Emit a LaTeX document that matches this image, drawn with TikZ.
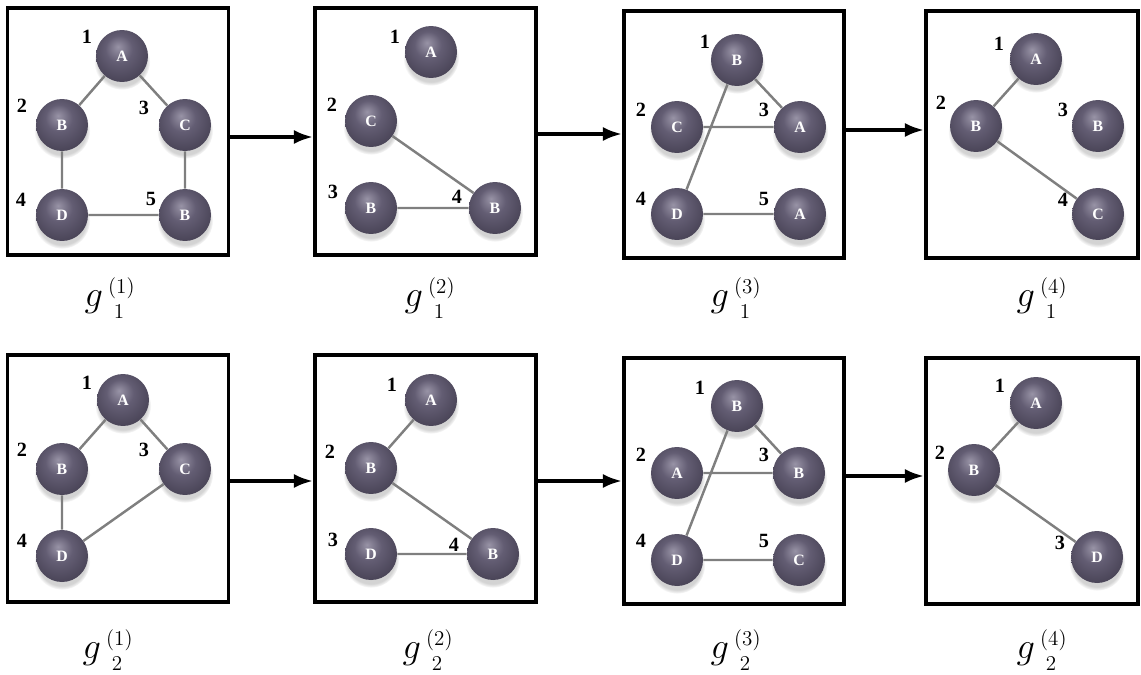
\documentclass[tikz,border=0pt]{standalone}
\usepackage{fontspec}
\setmainfont{Liberation Serif}
\usepackage{xcolor}
\usepackage{tikz}
\usetikzlibrary{arrows.meta,shadows,backgrounds}
\definecolor{cBallHi}{HTML}{9893A6}
\definecolor{cBall}{HTML}{635D73}
\definecolor{cBallDk}{HTML}{433E50}
\definecolor{cEdge}{HTML}{7F7F7F}
\pgfdeclareradialshading{vball}{\pgfpoint{-4bp}{9bp}}%
  {color(0bp)=(cBallHi); color(13bp)=(cBall); color(33bp)=(cBallDk); color(50bp)=(cBallDk)}
\newcommand{\glab}[2]{$g^{\kern3pt\scriptscriptstyle(#1)}_{\kern7pt\raisebox{-2pt}{$\scriptscriptstyle#2$}}$}

\begin{document}
\begin{tikzpicture}[x=0.02cm,y=-0.02cm,
  panel/.style={draw,line width=2pt,inner sep=0pt,minimum width=4.42cm,minimum height=4.94cm},
  vtx/.style={circle,minimum size=1.04cm,inner sep=0pt,shading=vball,text=white,
              font=\fontsize{9}{9}\selectfont\bfseries,
              circular drop shadow={shadow xshift=0pt,shadow yshift=-3pt,shadow scale=1.08,opacity=.35}},
  num/.style={font=\fontsize{11.5}{11.5}\selectfont\bfseries,inner sep=0pt},
  link/.style={cEdge,line width=1.4pt},
  flow/.style={-{Latex[length=11pt,width=8pt]},line width=2.2pt},
  glbl/.style={font=\huge,inner sep=0pt}]

\useasboundingbox (0,0) rectangle (1141,675);

% panels
\node[panel] (s11) at (118,131.5) {};
\node[panel] (s12) at (425.5,131.5) {};
\node[panel,minimum width=4.4cm] (s13) at (734,134.5) {};
\node[panel,minimum width=4.24cm] (s14) at (1032,134.5) {};
\node[panel] (s21) at (118,478.5) {};
\node[panel] (s22) at (425.5,478.5) {};
\node[panel,minimum width=4.4cm,minimum height=4.92cm] (s23) at (734,481) {};
\node[panel,minimum width=4.24cm,minimum height=4.92cm] (s24) at (1032,481) {};

% g_1^(1)
\foreach \n/\x/\y/\t in {1/122/56/A,2/62/125/B,3/185/125/C,4/62/215/D,5/185/215/B}
  \node[vtx] (s11-\n) at (\x,\y) {\t};
\foreach \n/\x/\y in {1/87/37,2/22/106,3/144/108,4/21/200,5/151/199}
  \node[num] (s11-l\n) at (\x,\y) {\n};

% g_1^(2)
\foreach \n/\x/\y/\t in {1/431/52/A,2/371/121/C,3/371/208/B,4/495/208/B}
  \node[vtx] (s12-\n) at (\x,\y) {\t};
\foreach \n/\x/\y in {1/395/37,2/332/105,3/333/192,4/457/197}
  \node[num] (s12-l\n) at (\x,\y) {\n};

% g_1^(3)
\foreach \n/\x/\y/\t in {1/737/60/B,2/677/127/C,3/800/127/A,4/677/214/D,5/800/214/A}
  \node[vtx] (s13-\n) at (\x,\y) {\t};
\foreach \n/\x/\y in {1/705/42,2/641/110,3/764/110,4/641/199,5/764/199}
  \node[num] (s13-l\n) at (\x,\y) {\n};

% g_1^(4)
\foreach \n/\x/\y/\t in {1/1036/59/A,2/976/126/B,3/1098/126/B,4/1098/214/C}
  \node[vtx] (s14-\n) at (\x,\y) {\t};
\foreach \n/\x/\y in {1/999/44,2/941/103,3/1063/110,4/1063/200}
  \node[num] (s14-l\n) at (\x,\y) {\n};

% g_2^(1)
\foreach \n/\x/\y/\t in {1/123/400/A,2/62/469/B,3/185/469/C,4/62/556/D}
  \node[vtx] (s21-\n) at (\x,\y) {\t};
\foreach \n/\x/\y in {1/87/383,2/22/450,3/144/450,4/22/541}
  \node[num] (s21-l\n) at (\x,\y) {\n};

% g_2^(2)
\foreach \n/\x/\y/\t in {1/431/400/A,2/371/468/B,3/371/554/D,4/493/554/B}
  \node[vtx] (s22-\n) at (\x,\y) {\t};
\foreach \n/\x/\y in {1/392/385,2/330/452,3/333/540,4/454/545}
  \node[num] (s22-l\n) at (\x,\y) {\n};

% g_2^(3)
\foreach \n/\x/\y/\t in {1/737/406/B,2/677/473/A,3/799/473/B,4/677/560/D,5/799/560/C}
  \node[vtx] (s23-\n) at (\x,\y) {\t};
\foreach \n/\x/\y in {1/700/388,2/641/455,3/764/455,4/641/541,5/764/541}
  \node[num] (s23-l\n) at (\x,\y) {\n};

% g_2^(4)
\foreach \n/\x/\y/\t in {1/1036/403/A,2/974/470/B,3/1097/557/D}
  \node[vtx] (s24-\n) at (\x,\y) {\t};
\foreach \n/\x/\y in {1/1000/386,2/940/453,3/1060/543}
  \node[num] (s24-l\n) at (\x,\y) {\n};

% edges behind the balls
\begin{scope}[on background layer]
\draw[link] (s11-1) -- (s11-2) (s11-1) -- (s11-3) (s11-2) -- (s11-4) (s11-3) -- (s11-5) (s11-4) -- (s11-5);
\draw[link] (s12-2) -- (s12-4) (s12-3) -- (s12-4);
\draw[link] (s13-1) -- (s13-3) (s13-2) -- (s13-3) (s13-4) -- (s13-1) (s13-4) -- (s13-5);
\draw[link] (s14-1) -- (s14-2) (s14-2) -- (s14-4);
\draw[link] (s21-1) -- (s21-2) (s21-1) -- (s21-3) (s21-2) -- (s21-4) (s21-4) -- (s21-3);
\draw[link] (s22-1) -- (s22-2) (s22-2) -- (s22-4) (s22-3) -- (s22-4);
\draw[link] (s23-1) -- (s23-3) (s23-2) -- (s23-3) (s23-4) -- (s23-1) (s23-4) -- (s23-5);
\draw[link] (s24-1) -- (s24-2) (s24-2) -- (s24-3);
\end{scope}

% steps
\draw[flow] (s11.east |- 0,137) -- (s12.west |- 0,137);
\draw[flow] (s12.east |- 0,134) -- (s13.west |- 0,134);
\draw[flow] (s13.east |- 0,130) -- (s14.west |- 0,130);
\draw[flow] (s21.east |- 0,481) -- (s22.west |- 0,481);
\draw[flow] (s22.east |- 0,481) -- (s23.west |- 0,481);
\draw[flow] (s23.east |- 0,476) -- (s24.west |- 0,476);

% captions
\node[glbl] (c11) at (110,298) {\glab{1}{1}};
\node[glbl] (c12) at (430,298) {\glab{2}{1}};
\node[glbl] (c13) at (736,298) {\glab{3}{1}};
\node[glbl] (c14) at (1042,298) {\glab{4}{1}};
\node[glbl] (c21) at (108,650) {\glab{1}{2}};
\node[glbl] (c22) at (428,650) {\glab{2}{2}};
\node[glbl] (c23) at (736,650) {\glab{3}{2}};
\node[glbl] (c24) at (1042,650) {\glab{4}{2}};
\end{tikzpicture}
\end{document}
